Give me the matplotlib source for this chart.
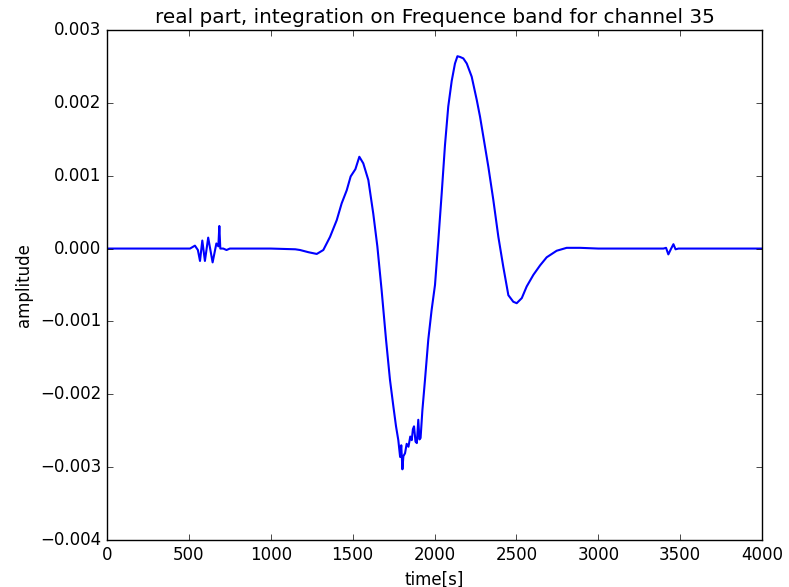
# -------------------------
# IMPORT LIBRARY
# -------------------------
import matplotlib
matplotlib.use("Agg")
import matplotlib.pyplot as plt

# -------------------------
# DATA
# -------------------------
time_s = [
    0, 500, 507, 537, 555, 568, 582, 598, 618, 645, 668, 680, 686, 692,
    710, 730, 750, 1000, 1150, 1179, 1230, 1281, 1321, 1362, 1403, 1433,
    1464, 1488, 1517, 1541, 1565, 1596, 1626, 1651, 1677, 1704, 1728, 1749,
    1765, 1779, 1790, 1797, 1804, 1810, 1820, 1830, 1841, 1852, 1861, 1868,
    1875, 1884, 1892, 1901, 1908, 1915, 1926, 1942, 1962, 1982, 2003, 2023,
    2044, 2064, 2084, 2105, 2125, 2140, 2156, 2176, 2197, 2227, 2258, 2278,
    2298, 2329, 2359, 2390, 2420, 2451, 2481, 2502, 2533, 2563, 2604, 2645,
    2685, 2746, 2807, 2889, 3000, 3398, 3414, 3428, 3443, 3459, 3472, 3490,
    4000,
]
amplitude = [
    0.0, 0.0, 0.0, 0.00004, -0.00002, -0.00017, 0.00011, -0.00017, 0.00015,
    -0.00019, 0.00007, 0.00003, 0.00031, 0.0, 0.0, -0.00002, 0.0, 0.0,
    -0.00001, -0.00002, -0.00005, -0.000074, -0.00002, 0.00016, 0.00039,
    0.00062, 0.0008, 0.00099, 0.00109, 0.00126, 0.00117, 0.00094, 0.00048,
    0.00003, -0.00057, -0.00125, -0.0018, -0.00217, -0.00244, -0.00263,
    -0.00286, -0.0027, -0.00303, -0.00285, -0.00281, -0.00268, -0.00272,
    -0.00258, -0.00263, -0.00248, -0.00244, -0.00265, -0.00267, -0.00235,
    -0.00262, -0.0026, -0.00222, -0.0018, -0.00125, -0.00085, -0.0005,
    0.0001, 0.00076, 0.00142, 0.00195, 0.0023, 0.00254, 0.00264, 0.00263,
    0.00261, 0.00254, 0.00236, 0.00204, 0.00181, 0.00154, 0.00112, 0.00067,
    0.00016, -0.00025, -0.00064, -0.00073, -0.00075, -0.00068, -0.00052,
    -0.00036, -0.00023, -0.00012, -0.00003, 0.00001, 0.00001, 0.0, 0.0,
    0.00001, -0.00008, -0.00001, 0.00006, -0.00001, 0.0, 0.0,
]

x_ticks = [0, 500, 1000, 1500, 2000, 2500, 3000, 3500, 4000]
y_ticks = [-0.004, -0.003, -0.002, -0.001, 0.0, 0.001, 0.002, 0.003]


# -------------------------
# PLOT
# -------------------------
def main():
    plt.style.use("classic")
    plt.rcParams["font.family"] = ["DejaVu Sans"]

    fig = plt.figure(figsize=(7.89, 5.87), dpi=100, facecolor="white")
    ax = fig.add_axes([0.1356, 0.0801, 0.8302, 0.8688])

    ax.plot(time_s, amplitude, color="blue", linewidth=1.5)

    ax.set_xlim(0, 4000)
    ax.set_ylim(-0.004, 0.003)
    ax.set_xticks(x_ticks)
    ax.set_yticks(y_ticks)
    ax.set_yticklabels([f"{v:.3f}".replace("-", "\u2212") for v in y_ticks])

    ax.set_xlabel("time[s]", fontsize=12)
    ax.set_ylabel("amplitude", fontsize=12)
    ax.set_title("real part, integration on Frequence band for channel 35",
                 fontsize=14.4)

    fig.savefig("out.png", dpi=100, facecolor="white")


if __name__ == "__main__":
    main()
